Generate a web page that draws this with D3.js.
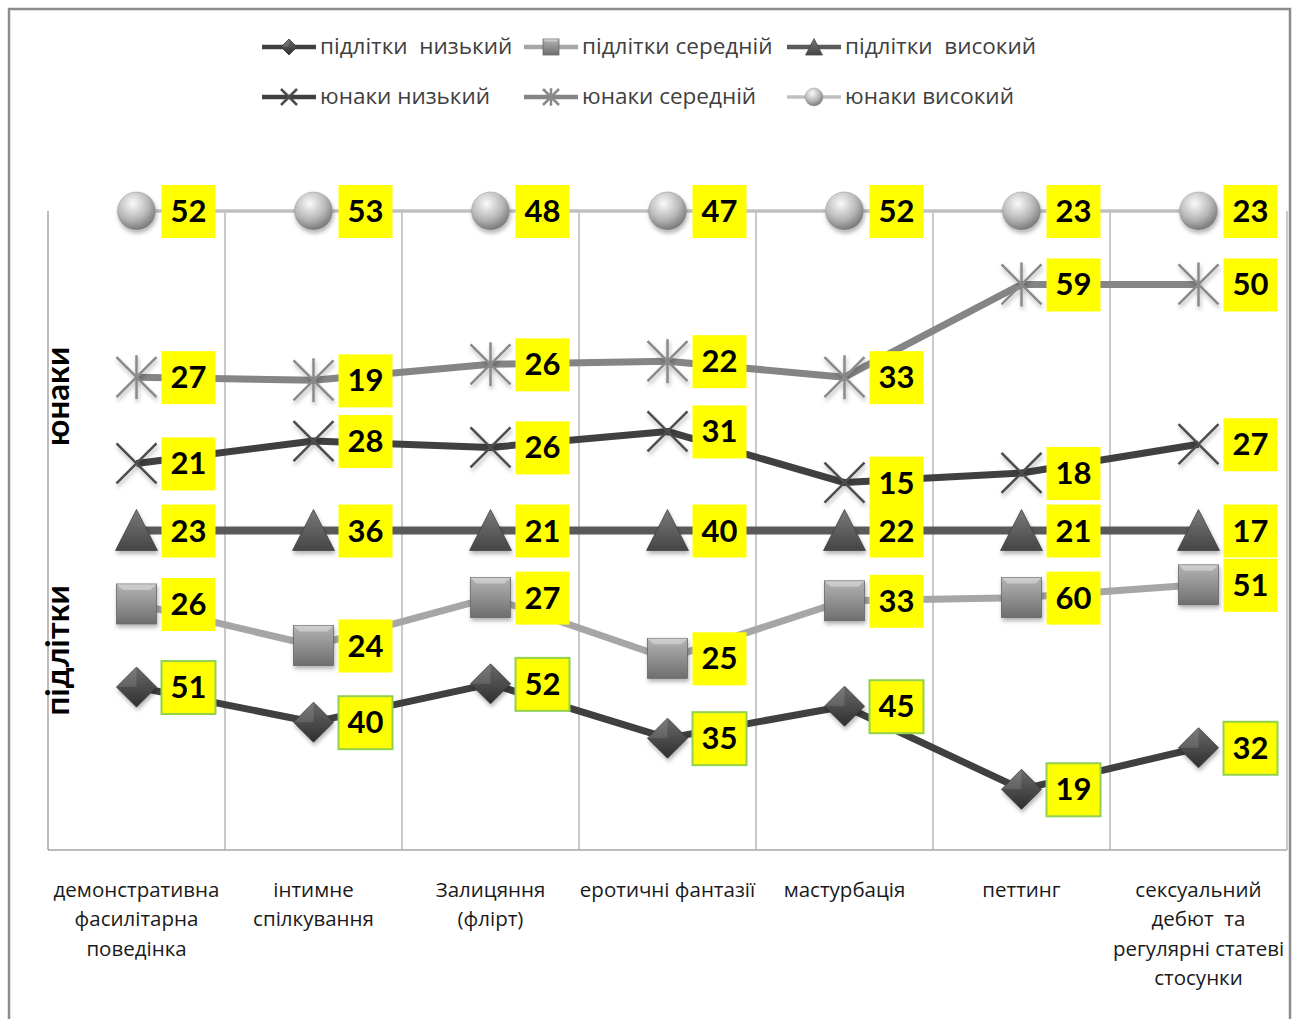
<!DOCTYPE html>
<html>
<head>
<meta charset="utf-8">
<script src="https://cdn.jsdelivr.net/npm/d3@7"></script>
<style>
  body { margin: 0; background: #fff; }
  svg text { font-family: Lato, "Open Sans", sans-serif; }
</style>
</head>
<body>
<div class="chart"></div>
<script>
var width = 1298
var height = 1019
var margin = {top: 211, right: 11, bottom: 169, left: 48}

// categories (multi-line labels as in the original)
var categories = [
  ["демонстративна", "фасилітарна", "поведінка"],
  ["інтимне", "спілкування"],
  ["Залицяння", "(флірт)"],
  ["еротичні фантазії"],
  ["мастурбація"],
  ["петтинг"],
  ["сексуальний", "дебют  та", "регулярні статеві", "стосунки"]
]

// series values (stacked in the original chart)
var teenLow  = [51, 40, 52, 35, 45, 19, 32]
var teenMid  = [26, 24, 27, 25, 33, 60, 51]
var teenHigh = [23, 36, 21, 40, 22, 21, 17]
var youthLow  = [21, 28, 26, 31, 15, 18, 27]
var youthMid  = [27, 19, 26, 22, 33, 59, 50]
var youthHigh = [52, 53, 48, 47, 52, 23, 23]

var seriesNames = ["підлітки  низький", "підлітки середній", "підлітки  високий",
                   "юнаки низький", "юнаки середній", "юнаки високий"]
var groupLabels = ["юнаки", "підлітки"]

var styles = [
  {color: "#404040", width: 7, marker: "diamond", border: "#92d050"},
  {color: "#a6a6a6", width: 7, marker: "square"},
  {color: "#5a5a5a", width: 8, marker: "triangle"},
  {color: "#404040", width: 7, marker: "cross"},
  {color: "#858585", width: 7, marker: "star"},
  {color: "#c0c0c0", width: 3.5, marker: "sphere"}
]

var allSeries = [teenLow, teenMid, teenHigh, youthLow, youthMid, youthHigh]
var keys = d3.range(allSeries.length)
var rows = categories.map(function(c, i){
  var r = {i: i}
  keys.forEach(function(k){ r[k] = allSeries[k][i] })
  return r
})
var stacked = d3.stack().keys(keys)(rows)

var svg = d3.select(".chart").append("svg")
    .attr("width", width)
    .attr("height", height)

var defs = svg.append("defs")

function linGrad(id, c1, c2){
  var g = defs.append("linearGradient").attr("id", id)
      .attr("x1", 0).attr("y1", 0).attr("x2", 0).attr("y2", 1)
  g.append("stop").attr("offset", "0%").attr("stop-color", c1)
  g.append("stop").attr("offset", "100%").attr("stop-color", c2)
}
linGrad("gDiamond", "#6a6a6a", "#2e2e2e")
linGrad("gSquare", "#b4b4b4", "#6e6e6e")
linGrad("gTriangle", "#7a7a7a", "#454545")
var rg = defs.append("radialGradient").attr("id", "gSphere")
    .attr("cx", "40%").attr("cy", "30%").attr("r", "70%")
rg.append("stop").attr("offset", "0%").attr("stop-color", "#fafafa")
rg.append("stop").attr("offset", "60%").attr("stop-color", "#b8b8b8")
rg.append("stop").attr("offset", "100%").attr("stop-color", "#7a7a7a")

var shadow = defs.append("filter").attr("id", "shadow")
    .attr("x", "-30%").attr("y", "-30%").attr("width", "160%").attr("height", "160%")
shadow.append("feDropShadow").attr("dx", 1).attr("dy", 3).attr("stdDeviation", 2)
    .attr("flood-color", "#000").attr("flood-opacity", 0.3)

// outer border
svg.append("path")
    .attr("d", "M9,1019 L9,9 L1290,9 L1290,1019")
    .attr("fill", "none").attr("stroke", "#8c8c8c").attr("stroke-width", 2.5)

var x = d3.scaleBand()
    .domain(d3.range(categories.length))
    .range([margin.left, width - margin.right])
    .padding(0)
var y = d3.scaleLinear().domain([0, 200]).range([height - margin.bottom, margin.top])

function cx(i){ return x(i) + x.bandwidth() / 2 }

// gridlines at band boundaries
var bounds = d3.range(1, categories.length + 1).map(function(i){
  return i < categories.length ? x(i) : x.range()[1]
})
svg.append("g").selectAll("line").data(bounds).enter().append("line")
    .attr("x1", function(d){ return d }).attr("x2", function(d){ return d })
    .attr("y1", y(200)).attr("y2", y(0))
    .attr("stroke", "#a6a6a6").attr("stroke-width", 1.2)

// axes
svg.append("line")
    .attr("x1", margin.left).attr("x2", margin.left)
    .attr("y1", y(200)).attr("y2", y(0))
    .attr("stroke", "#a6a6a6").attr("stroke-width", 1.5)
svg.append("line")
    .attr("x1", margin.left).attr("x2", x.range()[1])
    .attr("y1", y(0)).attr("y2", y(0))
    .attr("stroke", "#a6a6a6").attr("stroke-width", 1.5)

// category labels
var catG = svg.append("g")
categories.forEach(function(lines, i){
  var t = catG.append("text")
      .attr("x", cx(i)).attr("y", 897)
      .attr("text-anchor", "middle")
      .attr("font-size", 20.5)
      .attr("fill", "#1a1a1a")
      .style("font-family", "'Open Sans', sans-serif")
      .style("white-space", "pre")
  lines.forEach(function(l, j){
    t.append("tspan").attr("x", cx(i)).attr("dy", j == 0 ? 0 : 29.3).text(l)
  })
})

// group labels (rotated)
svg.append("text")
    .attr("transform", "translate(69," + y(142) + ") rotate(-90)")
    .attr("text-anchor", "middle")
    .attr("font-size", 33).attr("font-weight", "bold").attr("fill", "#000")
    .text(groupLabels[0])
svg.append("text")
    .attr("transform", "translate(69," + y(62.5) + ") rotate(-90)")
    .attr("text-anchor", "middle")
    .attr("font-size", 33).attr("font-weight", "bold").attr("fill", "#000")
    .text(groupLabels[1])

// lines
var line = d3.line()
    .x(function(d){ return cx(d.data.i) })
    .y(function(d){ return y(d[1]) })

svg.append("g").selectAll("path").data(stacked).enter().append("path")
    .attr("d", line)
    .attr("fill", "none")
    .attr("stroke", function(d){ return styles[d.key].color })
    .attr("stroke-width", function(d){ return styles[d.key].width })
    .attr("stroke-linejoin", "round")

function drawMarker(g, type, s){
  // s = half size
  if(type == "diamond"){
    g.append("path").attr("d", "M0," + (-s) + "L" + s + ",0L0," + s + "L" + (-s) + ",0Z")
        .attr("fill", "url(#gDiamond)").attr("stroke", "#333").attr("stroke-width", 0.8)
    g.append("path").attr("d", "M0," + (-s) + "L0,0L" + (-s) + ",0Z").attr("fill", "#fff").attr("opacity", 0.12)
  }else if(type == "square"){
    g.append("rect").attr("x", -s).attr("y", -s).attr("width", 2 * s).attr("height", 2 * s)
        .attr("fill", "url(#gSquare)").attr("stroke", "#666").attr("stroke-width", 0.8)
    g.append("path").attr("d", "M" + (-s) + "," + (-s) + "L" + s + "," + (-s) + "L" + (s * 0.7) + "," + (-s * 0.7) + "L" + (-s * 0.7) + "," + (-s * 0.7) + "Z")
        .attr("fill", "#fff").attr("opacity", 0.35)
  }else if(type == "triangle"){
    g.append("path").attr("d", "M0," + (-s * 1.05) + "L" + (s * 1.05) + "," + s + "L" + (-s * 1.05) + "," + s + "Z")
        .attr("fill", "url(#gTriangle)").attr("stroke", "#444").attr("stroke-width", 0.8)
  }else if(type == "cross"){
    g.append("path").attr("d", "M" + (-s) + "," + (-s) + "L" + s + "," + s + "M" + s + "," + (-s) + "L" + (-s) + "," + s)
        .attr("stroke", "#4d4d4d").attr("stroke-width", 2.5)
  }else if(type == "star"){
    g.append("path").attr("d", "M" + (-s) + "," + (-s) + "L" + s + "," + s + "M" + s + "," + (-s) + "L" + (-s) + "," + s + "M0," + (-s * 1.1) + "L0," + (s * 1.1))
        .attr("stroke", "#8a8a8a").attr("stroke-width", 2.5)
  }else if(type == "sphere"){
    g.append("circle").attr("r", s).attr("fill", "url(#gSphere)").attr("stroke", "#999").attr("stroke-width", 0.5)
  }
}

// markers
stacked.forEach(function(ser){
  var st = styles[ser.key]
  var mg = svg.append("g")
  ser.forEach(function(d){
    var g = mg.append("g")
        .attr("transform", "translate(" + cx(d.data.i) + "," + y(d[1]) + ")")
        .attr("filter", "url(#shadow)")
    drawMarker(g, st.marker, st.marker == "sphere" ? 19 : 20)
  })
})

// data labels
stacked.forEach(function(ser){
  var st = styles[ser.key]
  var lg = svg.append("g")
  ser.forEach(function(d){
    var px = cx(d.data.i) + 25
    var py = y(d[1])
    lg.append("rect")
        .attr("x", px).attr("y", py - 26)
        .attr("width", 54).attr("height", 53)
        .attr("fill", "#ffff00")
        .attr("stroke", st.border || "none")
        .attr("stroke-width", st.border ? 2 : 0)
    lg.append("text")
        .attr("x", px + 27).attr("y", py + 11)
        .attr("text-anchor", "middle")
        .attr("font-size", 31).attr("font-weight", "bold").attr("fill", "#000")
        .text(allSeries[ser.key][d.data.i])
  })
})

// legend
var legendPos = [[262, 47], [524, 47], [787, 47], [262, 97], [524, 97], [787, 97]]
var leg = svg.append("g")
seriesNames.forEach(function(name, k){
  var p = legendPos[k]
  var st = styles[k]
  leg.append("line")
      .attr("x1", p[0]).attr("x2", p[0] + 54)
      .attr("y1", p[1]).attr("y2", p[1])
      .attr("stroke", st.color).attr("stroke-width", Math.min(st.width, 4.5))
  var g = leg.append("g").attr("transform", "translate(" + (p[0] + 27) + "," + p[1] + ")")
  drawMarker(g, st.marker, st.marker == "sphere" ? 9 : 8)
  leg.append("text")
      .attr("x", p[0] + 58).attr("y", p[1] + 7)
      .attr("font-size", 22.5).attr("fill", "#404040")
      .style("font-family", "'Open Sans', sans-serif")
      .style("white-space", "pre")
      .text(name)
})
</script>
</body>
</html>
